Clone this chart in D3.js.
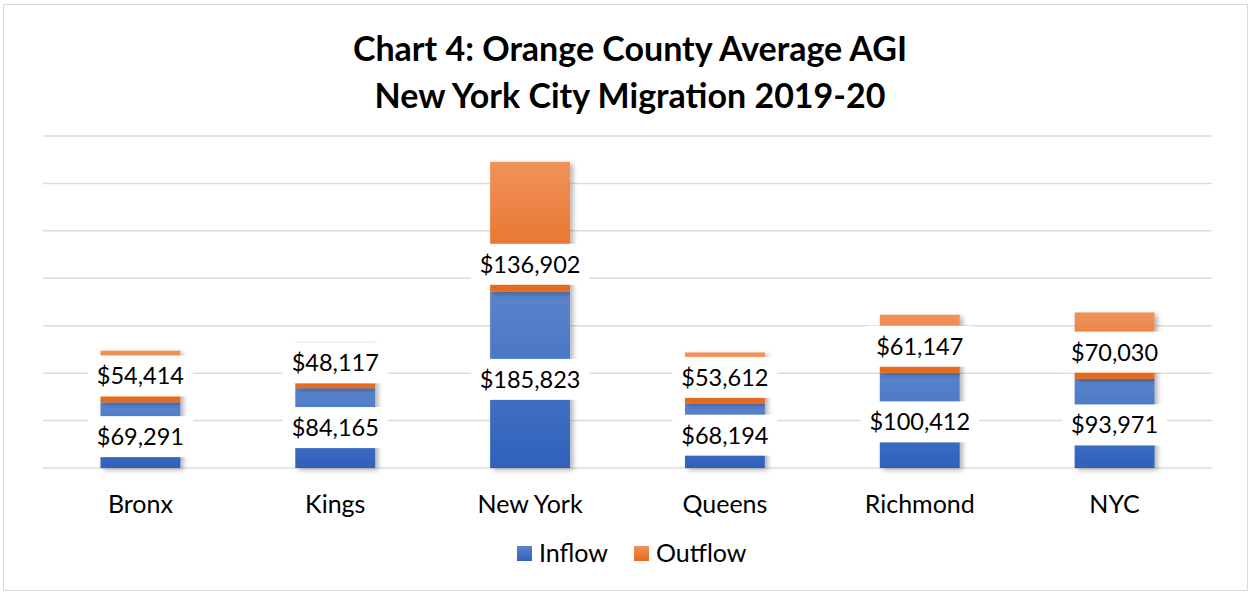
<!DOCTYPE html>
<html><head><meta charset="utf-8">
<script src="https://cdn.jsdelivr.net/npm/d3@7"></script>
<style>body{margin:0;background:#fff}svg{display:block}</style>
</head><body>
<script>
const categories = ["Bronx","Kings","New York","Queens","Richmond","NYC"];
const inflow = [69291, 84165, 185823, 68194, 100412, 93971];
const outflow = [54414, 48117, 136902, 53612, 61147, 70030];
const seriesNames = ["Inflow","Outflow"];
const yTicks = [0,50000,100000,150000,200000,250000,300000,350000];

const W = 1249, H = 592;
const font = "Lato, 'Open Sans', sans-serif";
const svg = d3.select("body").append("svg").attr("width", W).attr("height", H);
const defs = svg.append("defs");
function grad(id, top, bot){
  const g = defs.append("linearGradient").attr("id", id).attr("x1",0).attr("y1",0).attr("x2",0).attr("y2",1);
  g.append("stop").attr("offset","0%").attr("stop-color",top);
  g.append("stop").attr("offset","100%").attr("stop-color",bot);
}
grad("gIn", "#5b84cb", "#2f61bc");
grad("gOut", "#f0925b", "#e5691a");
const f = defs.append("filter").attr("id","sh").attr("x","-20%").attr("y","-5%").attr("width","150%").attr("height","115%");
f.append("feDropShadow").attr("dx",3).attr("dy",2).attr("stdDeviation",2.5).attr("flood-color","#000").attr("flood-opacity",0.3);

svg.append("rect").attr("x",3.5).attr("y",4.5).attr("width",W-5).attr("height",H-6).attr("fill","#fff").attr("stroke","#d9d9d9");

svg.append("text").attr("x",630).attr("y",61).attr("text-anchor","middle")
  .attr("font-family",font).attr("font-weight","bold").attr("font-size",34).text("Chart 4: Orange County Average AGI");
svg.append("text").attr("x",630).attr("y",108).attr("text-anchor","middle")
  .attr("font-family",font).attr("font-weight","bold").attr("font-size",34).text("New York City Migration 2019-20");

const x = d3.scaleBand().domain(categories).range([43,1212]).paddingInner(0.59).paddingOuter(0.295);
const y = d3.scaleLinear().domain([0,350000]).range([468,136]);

svg.append("g").selectAll("line").data(yTicks).join("line")
  .attr("x1",43).attr("x2",1212).attr("y1",d=>y(d)).attr("y2",d=>y(d))
  .attr("stroke","#dcdcdc").attr("stroke-width",1.5);

const data = categories.map((c,i)=>({cat:c, Inflow:inflow[i], Outflow:outflow[i]}));
const stack = d3.stack().keys(seriesNames)(data);
const fills = {Inflow:"url(#gIn)", Outflow:"url(#gOut)"};

const bars = svg.append("g");
stack.forEach(s=>{
  bars.append("g").selectAll("rect").data(s).join("rect")
    .attr("x",d=>x(d.data.cat)).attr("width",x.bandwidth())
    .attr("y",d=>y(d[1])).attr("height",d=>y(d[0])-y(d[1]))
    .attr("fill",fills[s.key]).attr("filter","url(#sh)");
});

// manual label nudges (pixels) as in the reference layout
const nudge = {"Outflow|Kings":-2, "Outflow|New York":38, "Outflow|Richmond":3, "Outflow|NYC":7, "Inflow|Bronx":2, "Inflow|Richmond":2, "Inflow|NYC":2};
const fmt = v=>"$"+d3.format(",")(v);
const lab = svg.append("g");
stack.forEach(s=>{
  s.forEach(d=>{
    const cx = x(d.data.cat)+x.bandwidth()/2;
    const cy = (y(d[0])+y(d[1]))/2 + (nudge[s.key+"|"+d.data.cat]||0);
    const t = fmt(d[1]-d[0]);
    const w = t.length*13+14;
    lab.append("rect").attr("x",cx-w/2).attr("y",cy-21).attr("width",w).attr("height",41).attr("fill","#fff");
    lab.append("text").attr("x",cx).attr("y",cy+8).attr("text-anchor","middle")
      .attr("font-family",font).attr("font-size",23.5).attr("fill","#000").text(t);
  });
});

svg.append("g").selectAll("text").data(categories).join("text")
  .attr("x",d=>x(d)+x.bandwidth()/2).attr("y",513).attr("text-anchor","middle")
  .attr("font-family",font).attr("font-size",25).attr("fill","#000").text(d=>d);

const leg = [{k:"Inflow",x:517},{k:"Outflow",x:634}];
leg.forEach(l=>{
  svg.append("rect").attr("x",l.x).attr("y",546).attr("width",15).attr("height",15).attr("fill",fills[l.k]);
  svg.append("text").attr("x",l.x+22).attr("y",562).attr("font-family",font).attr("font-size",25).text(l.k);
});
</script>
</body></html>
